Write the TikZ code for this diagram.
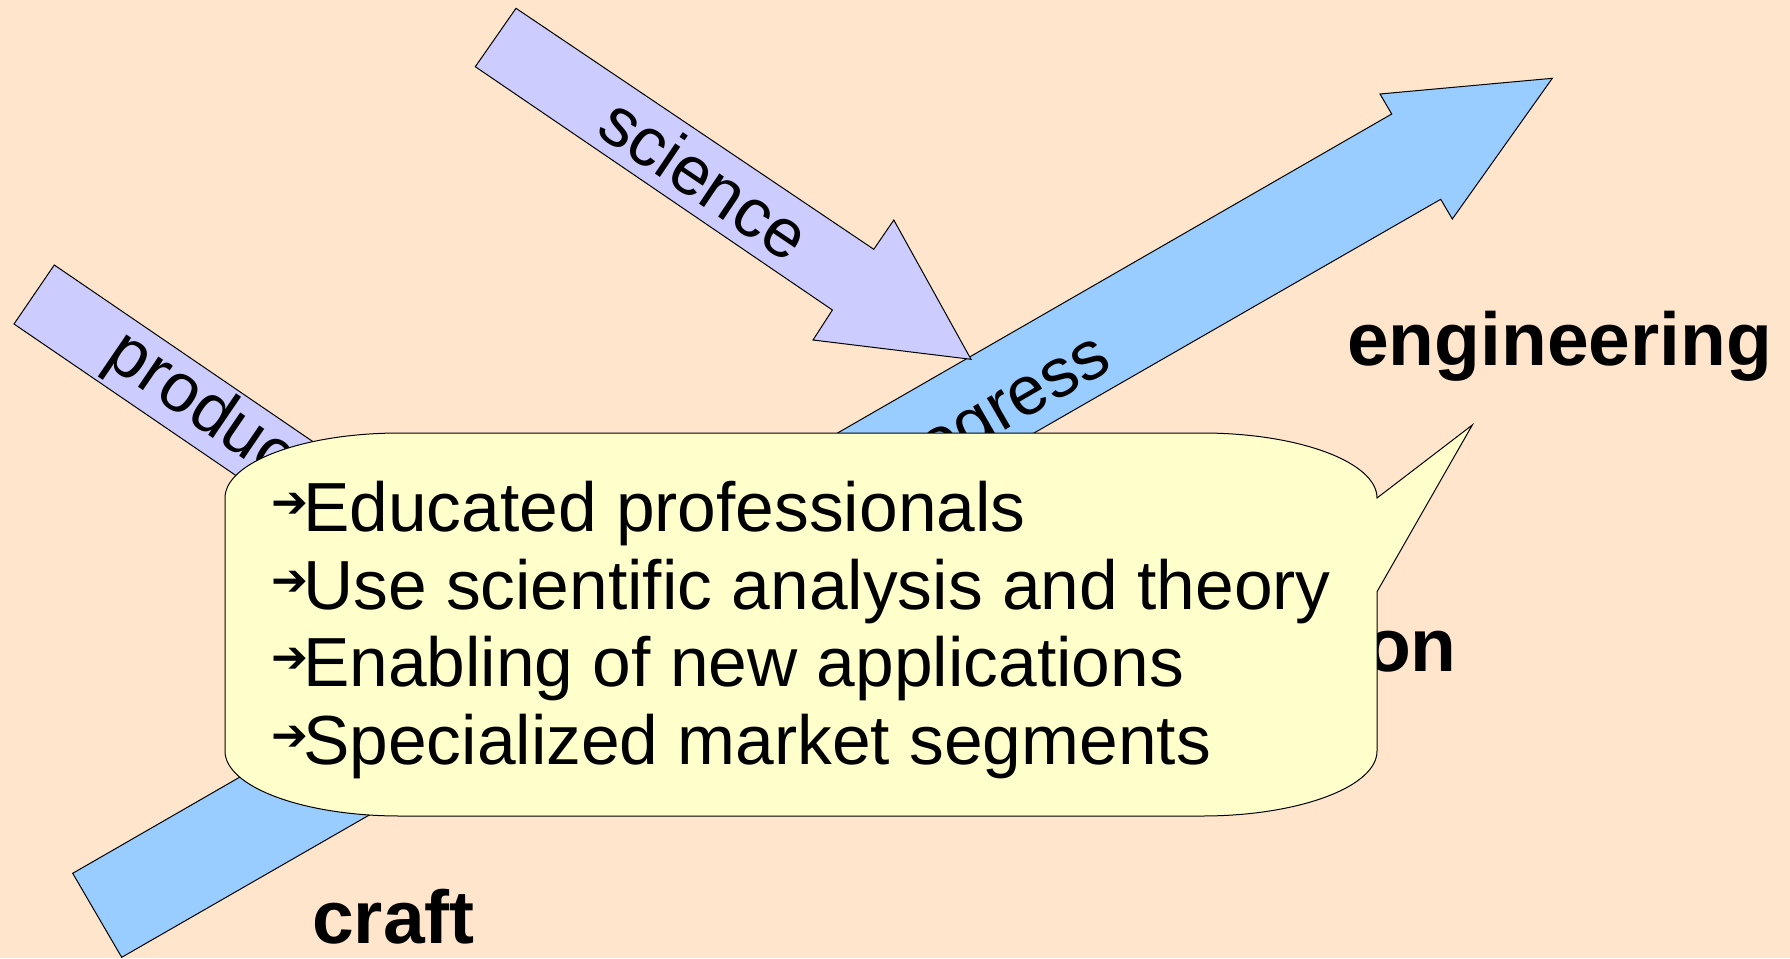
\documentclass[tikz,border=0pt]{standalone}
\usepackage{fontspec}
\setmainfont{Liberation Sans}
\newfontfamily\symbolfont{DejaVu Sans}

\definecolor{peach}{HTML}{FFE5CC}
\definecolor{lavender}{HTML}{CCCCFF}
\definecolor{skyblue}{HTML}{99CCFF}
\definecolor{paleyellow}{HTML}{FFFFCC}

\newcommand{\itemarrow}{\makebox[32pt][l]{\symbolfont\bfseries\fontsize{44}{44}\selectfont\raisebox{14pt}{➔}}}

\begin{document}
\begin{tikzpicture}[x=1pt,y=-1pt,
  blockarrow/.style={draw=black,line width=1pt,line join=miter},
  arrowlabel/.style={font=\fontsize{69}{69}\selectfont,inner sep=0pt},
  stagelabel/.style={font=\fontsize{75}{75}\selectfont\bfseries,inner sep=0pt,anchor=base west},
  bulletline/.style={font=\fontsize{69.5}{69.5}\selectfont,inner sep=0pt,anchor=base west}]

% Draw the background
\fill[peach] (0,0) rectangle (1790,958);
\useasboundingbox (0,0) rectangle (1790,958);

% Draw the progress arrow
\filldraw[blockarrow,fill=skyblue] (72.7,873.3) -- (1391.7,114) -- (1380,94) -- (1552.3,78.3)
  -- (1452.3,219) -- (1440.7,199.3) -- (121.7,957.3) -- cycle;
\node[arrowlabel,rotate=30] (progress) at (992,425) {progress};

% Label the stages
\node[stagelabel] (craft) at (312,943) {craft};
\node[stagelabel] (engineering) at (1347,365) {engineering};
\node[stagelabel,anchor=base east] (commercial) at (1457,671) {commercialization};

% Draw the science arrow
\filldraw[blockarrow,fill=lavender] (516,8.3) -- (873.8,249.3) -- (893.8,220) -- (971,359.3)
  -- (813,340) -- (832.4,310) -- (475.3,66.7) -- cycle;
\node[arrowlabel,rotate=-34] (science) at (705,178) {science};

% Draw the production arrow
\filldraw[blockarrow,fill=lavender] (54.3,265) -- (411.3,508.8) -- (432,478.6) -- (508.3,618.2)
  -- (350.4,598) -- (371.1,567.8) -- (14,324) -- cycle;
\node[arrowlabel,rotate=-34.3] (production) at (246,439) {production};

% Draw the callout
\filldraw[draw=black,line width=1pt,fill=paleyellow] (400,433) -- (1202,433)
  arc[start angle=270,end angle=360,x radius=175,y radius=65]
  -- (1472.3,425) -- (1377,591.7) -- (1377,751)
  arc[start angle=0,end angle=90,x radius=175,y radius=65]
  -- (400,816)
  arc[start angle=90,end angle=180,x radius=175,y radius=65]
  -- (225,498)
  arc[start angle=180,end angle=270,x radius=175,y radius=65] -- cycle;

% Write the bullet lines
\node[bulletline] (educated) at (271,531.7) {\itemarrow Educated professionals};
\node[bulletline] (science use) at (271,609.2) {\itemarrow Use scientific analysis and theory};
\node[bulletline] (enabling) at (271,686.7) {\itemarrow Enabling of new applications};
\node[bulletline] (segments) at (271,764.2) {\itemarrow Specialized market segments};

\end{tikzpicture}
\end{document}
